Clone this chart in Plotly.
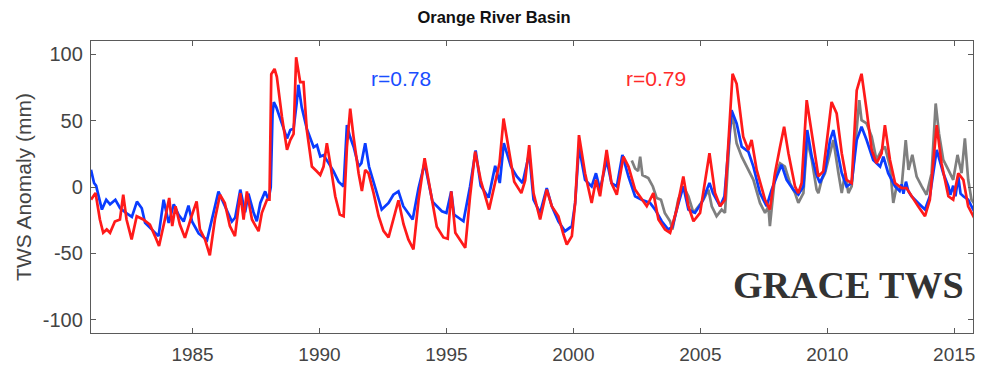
import plotly.graph_objects as go

# Model TWS anomaly (blue), second model (red), GRACE TWS (gray), mm
blue_t = [1981.0, 1981.12, 1981.2, 1981.43, 1981.6, 1981.75, 1981.96, 1982.15, 1982.42, 1982.61,
          1982.81, 1983.0, 1983.13, 1983.4, 1983.66, 1983.86, 1984.06, 1984.26, 1984.45, 1984.65,
          1984.84, 1984.98, 1985.24, 1985.57, 1985.83, 1986.02, 1986.22, 1986.55, 1986.68, 1986.88,
          1987.07, 1987.2, 1987.4, 1987.53, 1987.67, 1987.86, 1987.99, 1988.08, 1988.15, 1988.2,
          1988.3, 1988.52, 1988.72, 1988.85, 1988.98, 1989.1, 1989.17, 1989.3, 1989.5, 1989.77,
          1989.9, 1990.03, 1990.16, 1990.36, 1990.55, 1990.75, 1990.95, 1991.08, 1991.2, 1991.35,
          1991.54, 1991.65, 1991.8, 1991.95, 1992.19, 1992.45, 1992.72, 1992.91, 1993.11, 1993.3,
          1993.67, 1993.9, 1994.14, 1994.45, 1994.82, 1995.0, 1995.19, 1995.3, 1995.67, 1995.93,
          1996.15, 1996.35, 1996.66, 1996.92, 1997.1, 1997.26, 1997.54, 1997.77, 1998.0, 1998.26,
          1998.43, 1998.69, 1998.95, 1999.15, 1999.41, 1999.67, 1999.94, 2000.07, 2000.22, 2000.46,
          2000.72, 2000.89, 2001.05, 2001.31, 2001.5, 2001.71, 2001.93, 2002.17, 2002.43, 2002.69,
          2003.02, 2003.22, 2003.48, 2003.74, 2003.9, 2004.07, 2004.33, 2004.53, 2004.79, 2005.05,
          2005.36, 2005.5, 2005.78, 2005.95, 2006.23, 2006.43, 2006.63, 2006.89, 2007.09, 2007.35,
          2007.61, 2007.81, 2008.01, 2008.2, 2008.4, 2008.66, 2008.86, 2009.06, 2009.21, 2009.39,
          2009.58, 2009.71, 2009.91, 2010.11, 2010.24, 2010.37, 2010.57, 2010.76, 2010.96, 2011.16,
          2011.35, 2011.55, 2011.81, 2012.08, 2012.21, 2012.4, 2012.67, 2012.85, 2012.93, 2013.0,
          2013.1, 2013.19, 2013.32, 2013.58, 2013.85, 2014.04, 2014.31, 2014.57, 2014.77, 2014.85,
          2014.96, 2015.05, 2015.16, 2015.25, 2015.36, 2015.55, 2015.75, 2016.0]
blue_v = [13, 3, 1, -17, -9.6, -13, -9.6, -16, -20, -22.5,
          -11, -16, -27, -32, -37, -9.6, -27, -13, -21, -26,
          -14, -26, -35, -40, -20, -3.5, -12, -26, -23, -2,
          -19, -5, -19, -25.8, -12, -3.3, -9.6, 0, 55, 64,
          60, 48, 36.6, 43, 44, 63, 77, 60, 44, 30,
          31.6, 23, 24, 18, 12, 4, 0.4, 46.6, 38, 30,
          15.4, 18, 32.9, 15.4, 0.4, -17, -12, -5.8, -3.3, -14.5,
          -24.5, -1, 18, -11, -18.3, -19.5, -3.3, -20.8, -25.8, 0.4,
          27.5, 1, -8, 16, 3, 33, 15.4, 7.9, 3, 25.4,
          -9.6, -19.5, -0.8, -14.5, -25.8, -33.3, -29.5, -12, 30.4, 5.4,
          0.4, 10.4, -2, 20.4, 3, 0.4, 24.2, 7.9, -7, -9.6,
          -12, -17, -25.8, -32, -30, -17, 0.4, -17, -19.5, -12,
          3, -4.6, -14.5, -7, 57.9, 47.9, 30.4, 26.7, 15.4, -4.6,
          -14.5, -2, 7.9, 16.7, 5.4, -2, -5.8, 0.4, 42.9, 22.9,
          9, 3, 11.7, 35.4, 42.9, 30.4, 10.4, 0.4, 3, 35.4,
          45.4, 35.4, 20.4, 15.4, 22.9, 10.4, 0.4, -3, 2, -5,
          4, -3, -7, -12, -17, -7, 27.9, 10.4, 0.4, -6,
          1, -7, 7.9, -5, -7, -9.6, -17, -24.5]

red_t = [1981.0, 1981.18, 1981.35, 1981.48, 1981.62, 1981.75, 1981.94, 1982.14, 1982.27, 1982.4,
         1982.6, 1982.8, 1983.06, 1983.32, 1983.52, 1983.68, 1983.91, 1984.08, 1984.2, 1984.33,
         1984.5, 1984.7, 1984.96, 1985.16, 1985.29, 1985.49, 1985.68, 1985.88, 1986.08, 1986.27,
         1986.47, 1986.67, 1986.88, 1987.01, 1987.14, 1987.34, 1987.6, 1987.73, 1987.93, 1988.03,
         1988.1, 1988.23, 1988.32, 1988.52, 1988.72, 1988.85, 1988.98, 1989.08, 1989.24, 1989.37,
         1989.5, 1989.7, 1989.9, 1990.03, 1990.16, 1990.29, 1990.42, 1990.62, 1990.8, 1990.95,
         1991.08, 1991.21, 1991.34, 1991.54, 1991.67, 1991.8, 1991.93, 1992.13, 1992.33, 1992.52,
         1992.72, 1992.91, 1993.11, 1993.31, 1993.5, 1993.7, 1993.9, 1994.14, 1994.36, 1994.62,
         1994.88, 1995.05, 1995.19, 1995.35, 1995.74, 1995.93, 1996.13, 1996.35, 1996.68, 1996.92,
         1997.09, 1997.25, 1997.42, 1997.67, 1997.95, 1998.1, 1998.26, 1998.43, 1998.69, 1998.95,
         1999.15, 1999.41, 1999.61, 1999.74, 1999.94, 2000.07, 2000.22, 2000.46, 2000.72, 2000.89,
         2001.05, 2001.31, 2001.5, 2001.71, 2001.97, 2002.17, 2002.43, 2002.69, 2002.89, 2003.15,
         2003.35, 2003.61, 2003.81, 2004.07, 2004.33, 2004.53, 2004.73, 2004.99, 2005.36, 2005.58,
         2005.78, 2005.97, 2006.17, 2006.27, 2006.43, 2006.69, 2006.89, 2007.02, 2007.22, 2007.55,
         2007.74, 2007.94, 2008.14, 2008.3, 2008.47, 2008.73, 2008.86, 2008.99, 2009.19, 2009.39,
         2009.65, 2009.84, 2010.04, 2010.17, 2010.37, 2010.57, 2010.76, 2010.96, 2011.16, 2011.35,
         2011.55, 2011.75, 2011.94, 2012.14, 2012.27, 2012.47, 2012.67, 2012.93, 2013.12, 2013.32,
         2013.58, 2013.85, 2014.04, 2014.31, 2014.5, 2014.77, 2014.96, 2015.16, 2015.36, 2015.55,
         2015.82, 2016.0]
red_v = [-9.5, -4.5, -24.5, -34.5, -32, -34.5, -26, -24.5, -5.8, -24.5,
         -39.5, -22, -24.5, -28.3, -37, -44.5, -24.5, -8.3, -29.5, -14.5,
         -28.3, -38.3, -22, -10.8, -32, -39.5, -51.5, -24.5, -5.8, -12,
         -29.5, -37, -4.6, -24.5, -3.3, -24.5, -33.3, -19.5, -9.6, -9.6,
         85, 89, 83, 53, 28, 35.4, 40, 97.8, 79, 79,
         43, 15.4, 11.7, 9, 15.4, 33, 18, -7, -20.8, -22,
         30, 59, 38, 10.4, -3, 12.9, 10.4, -4.6, -22, -33,
         -38, -24.5, -10, -28, -39.5, -47, -10, 21.7, -3, -30,
         -38, -39, -3.3, -34.5, -45.8, -7, 26.7, 5, -17, 3,
         18, 51.6, 33, 4, -4.6, 5, 31.6, -4.6, -24.5, -2,
         -14.5, -22, -35.8, -43.3, -37, -12, 39.1, 10.4, -12, 5.4,
         -7, 27.9, 3, -5.8, 22.9, 15.4, -2, -9.6, -14.5, -4.6,
         -24.5, -32, -34.5, -17, 7.9, -14.5, -25.8, -19.5, 25.4, -4.6,
         -14.5, -9.6, 57.9, 85.3, 77.8, 37.9, 27.9, 35.4, 12.9, -9.6,
         -17, 10.4, 30.4, 45.4, 25.4, 0.4, -4.6, 3, 65.4, 40.4,
         8, 11.7, 45.4, 64.1, 55.4, 25.4, 5.4, 3, 72.8, 85.3,
         57.9, 28, 17.9, 25.4, 46.6, 20.4, 3, -0.8, -0.8, -7,
         -14.5, -22, -9.6, 46.6, 17.9, -7, -9.6, 10.4, 5.4, -14.5,
         -24.5, -29.5]

grace_t = [2002.3, 2002.43, 2002.55, 2002.63, 2002.72, 2002.95, 2003.13, 2003.28, 2003.45, 2003.6,
           2003.81, 2003.9, 2004.13, 2004.33, 2004.53, 2004.73, 2004.93, 2005.12, 2005.32, 2005.45,
           2005.64, 2005.84, 2005.97, 2006.17, 2006.26, 2006.43, 2006.63, 2006.89, 2007.09, 2007.35,
           2007.55, 2007.68, 2007.74, 2007.94, 2008.14, 2008.33, 2008.53, 2008.73, 2008.86, 2009.06,
           2009.21, 2009.39, 2009.58, 2009.65, 2009.78, 2009.91, 2010.11, 2010.24, 2010.44, 2010.57,
           2010.7, 2010.83, 2010.96, 2011.16, 2011.26, 2011.35, 2011.55, 2011.75, 2011.94, 2012.14,
           2012.27, 2012.47, 2012.6, 2012.73, 2012.93, 2013.09, 2013.2, 2013.35, 2013.52, 2013.72,
           2013.91, 2014.11, 2014.27, 2014.4, 2014.57, 2014.77, 2014.96, 2015.13, 2015.29, 2015.42,
           2015.55, 2015.68, 2015.88]
grace_v = [20, 14, 12, 22.9, 9, 6.7, 0.4, -8.3, -9.6, -19.5,
           -25.8, -32, -9.6, 0.4, -7, -19.5, -14.5, -9.6, -2, -14.5,
           -22, -17, -19.5, 42.9, 55.4, 32.9, 22.9, 12.9, 5.4, -12,
           -19.5, -14.5, -29.5, 7.9, 17.9, 15.4, 3, -4.6, -12, -4.6,
           35.4, 20.4, -2, -4.6, 5.4, 10.4, 25.4, 35.4, 10.4, -4.6,
           10.4, -4.6, 0.4, 45.4, 65.4, 50.4, 47.9, 37.9, 20.4, 27.9,
           30.4, 15.4, -12, 0.4, 0.4, 35.4, 12.9, 24.2, 7.9, 0.4,
           -5.8, 10.4, 62.9, 40.4, 20.4, 12.9, 5.4, 24.2, 10.4, 36.6,
           5.4, -9.6, -14.5]

x_ticks = [1985, 1990, 1995, 2000, 2005, 2010, 2015]
y_ticks = [-100, -50, 0, 50, 100]
y_tick_labels = ["-100", "-50", "0", "50", "100"]

fig = go.Figure()
fig.add_trace(go.Scatter(x=grace_t, y=grace_v, mode="lines",
                         line=dict(color="#7f7f7f", width=2.7), showlegend=False))
fig.add_trace(go.Scatter(x=blue_t, y=blue_v, mode="lines",
                         line=dict(color="#0a3cff", width=2.7), showlegend=False))
fig.add_trace(go.Scatter(x=red_t, y=red_v, mode="lines",
                         line=dict(color="#ff1a1a", width=2.7), showlegend=False))

axis_common = dict(showgrid=False, zeroline=False, showline=True, mirror="allticks",
                   linecolor="#5a5a5a", linewidth=1.4, ticks="inside", ticklen=5,
                   tickcolor="#5a5a5a", automargin=False)

fig.update_xaxes(range=[1981, 2015.74], tickvals=x_ticks, ticklabelstandoff=4,
                 tickfont=dict(family="Liberation Sans", size=19, color="#444444"),
                 **axis_common)
fig.update_yaxes(range=[-110, 110], tickvals=y_ticks, ticktext=y_tick_labels,
                 ticklabelstandoff=3,
                 tickfont=dict(family="Liberation Sans", size=20, color="#444444"),
                 title=dict(text="TWS Anomaly (mm)", standoff=5,
                            font=dict(family="Liberation Sans", size=21, color="#444444")),
                 **axis_common)

fig.add_annotation(x=1993.2, y=82, text="r=0.78", showarrow=False,
                   font=dict(family="Liberation Sans", size=21, color="#1a4dff"))
fig.add_annotation(x=2003.25, y=82, text="r=0.79", showarrow=False,
                   font=dict(family="Liberation Sans", size=21, color="#ff2a2a"))
fig.add_annotation(x=2010.85, y=-74, text="<b>GRACE TWS</b>", showarrow=False,
                   font=dict(family="Liberation Serif", size=38, color="#333333"))

fig.update_layout(
    width=981, height=368,
    margin=dict(l=91, r=8, t=41, b=35),
    paper_bgcolor="white", plot_bgcolor="white",
    title=dict(text="<b>Orange River Basin</b>", x=494 / 981, xanchor="center",
               y=1 - 17 / 368, yanchor="middle",
               font=dict(family="Liberation Sans", size=16.5, color="#111111")),
)

fig.write_html("out.html")
